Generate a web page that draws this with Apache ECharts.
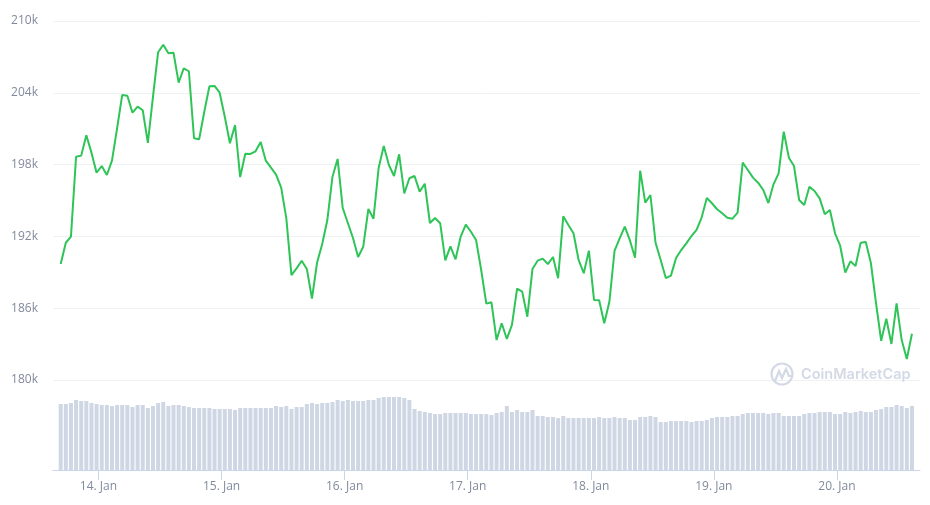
<!DOCTYPE html>
<html>
<head>
<meta charset="utf-8">
<title>Price chart</title>
<script src="https://cdn.jsdelivr.net/npm/echarts@6/dist/echarts.min.js"></script>
<style>
html, body { margin: 0; padding: 0; background: #fff; }
#main { width: 930px; height: 505px; }
</style>
</head>
<body>
<div id="main"></div>
<script>
// hourly price, in thousands
var prices = [
    189.69, 191.47, 191.98, 198.66, 198.75, 200.45, 199.0, 197.32, 197.88, 197.13,
    198.33, 201.03, 203.82, 203.76, 202.34, 202.84, 202.54, 199.81, 203.68, 207.39,
    208.02, 207.3, 207.35, 204.85, 206.05, 205.8, 200.2, 200.12, 202.42, 204.54,
    204.57, 204.01, 202.0, 199.78, 201.31, 196.96, 198.91, 198.89, 199.11, 199.89,
    198.33, 197.74, 197.16, 196.07, 193.51, 188.77, 189.33, 189.97, 189.28, 186.81,
    189.82, 191.37, 193.37, 196.99, 198.47, 194.37, 193.12, 191.87, 190.28, 191.14,
    194.29, 193.48, 197.72, 199.56, 197.97, 197.05, 198.86, 195.6, 196.86, 197.05,
    195.74, 196.4, 193.12, 193.54, 193.1, 190.0, 191.17, 190.09, 191.98, 192.98,
    192.39, 191.7, 189.19, 186.38, 186.49, 183.34, 184.74, 183.43, 184.6, 187.63,
    187.38, 185.29, 189.28, 189.97, 190.14, 189.69, 190.28, 188.5, 193.68, 192.95,
    192.26, 190.03, 188.92, 190.81, 186.69, 186.66, 184.74, 186.54, 190.78, 191.84,
    192.81, 191.66, 190.22, 197.49, 194.82, 195.46, 191.47, 190.03, 188.52, 188.72,
    190.2, 190.86, 191.42, 192.03, 192.54, 193.6, 195.21, 194.77, 194.27, 193.93,
    193.56, 193.48, 193.98, 198.16, 197.55, 196.91, 196.49, 195.88, 194.79, 196.35,
    197.27, 200.75, 198.58, 197.88, 195.04, 194.62, 196.15, 195.79, 195.18, 193.85,
    194.21, 192.26, 191.22, 188.97, 189.92, 189.53, 191.47, 191.53, 189.75, 186.41,
    183.28, 185.12, 183.01, 186.41, 183.34, 181.75, 183.87
];
// hourly volume, relative units
var volumes = [
    66, 66, 67, 70, 69, 69, 67, 66, 65, 65,
    64, 65, 65, 65, 63, 65, 65, 62, 64, 67,
    68, 64, 65, 65, 64, 63, 62, 62, 62, 62,
    61, 61, 61, 61, 60, 62, 62, 62, 62, 62,
    62, 62, 64, 63, 64, 61, 63, 63, 66, 67,
    66, 67, 67, 68, 70, 69, 70, 69, 69, 69,
    70, 70, 72, 73, 73, 73, 73, 72, 70, 61,
    59, 58, 57, 56, 56, 57, 57, 57, 57, 57,
    56, 56, 56, 56, 55, 57, 58, 64, 58, 60,
    58, 58, 60, 54, 54, 53, 53, 52, 54, 52,
    52, 52, 52, 52, 52, 53, 52, 52, 53, 52,
    52, 50, 50, 53, 53, 54, 53, 48, 48, 49,
    49, 49, 49, 48, 49, 49, 50, 52, 53, 53,
    53, 54, 54, 56, 57, 57, 57, 57, 56, 57,
    57, 54, 54, 54, 54, 56, 57, 57, 58, 58,
    58, 56, 56, 58, 57, 58, 59, 58, 58, 60,
    61, 63, 63, 65, 64, 62, 64
];
var dayLabels = ['14. Jan', '15. Jan', '16. Jan', '17. Jan', '18. Jan', '19. Jan', '20. Jan'];
var dayTicks = [0, 24, 48, 72, 96, 120, 144]; // hours after 14 Jan 00:00

var firstPoint = -7.37; // the series starts on the evening of 13 Jan
var axisMin = -8.87;
var axisMax = 160.2;

var priceData = prices.map(function (val, idx) {
    return [firstPoint + idx, val];
});
var volumeData = volumes.map(function (val, idx) {
    return [firstPoint + idx, val];
});

var FONT = '"Open Sans", sans-serif';
var myChart = echarts.init(document.getElementById('main'));
var option = {
    animation: false,
    backgroundColor: '#fff',
    grid: [
        { left: 53, top: 21, width: 867, height: 359 },
        { left: 53, top: 380, width: 867, height: 90 }
    ],
    xAxis: [
        {
            type: 'value',
            gridIndex: 0,
            min: axisMin,
            max: axisMax,
            axisLine: { show: false },
            axisTick: { show: false },
            axisLabel: { show: false },
            splitLine: { show: false }
        },
        {
            type: 'value',
            gridIndex: 1,
            min: axisMin,
            max: axisMax,
            axisLine: { onZero: false, lineStyle: { color: '#ccd6eb', width: 1 } },
            axisTick: { length: 10, lineStyle: { color: '#ccd6eb' }, customValues: dayTicks },
            axisLabel: {
                customValues: dayTicks,
                margin: 11,
                color: '#808a9d',
                fontFamily: FONT,
                fontSize: 12,
                hideOverlap: false,
                formatter: function (value) {
                    return dayLabels[dayTicks.indexOf(value)] || '';
                }
            },
            splitLine: { show: false }
        }
    ],
    yAxis: [
        {
            type: 'value',
            gridIndex: 0,
            min: 180,
            max: 210,
            interval: 6,
            axisLine: { show: false },
            axisTick: { show: false },
            axisLabel: {
                margin: 15,
                color: '#808a9d',
                fontFamily: FONT,
                fontSize: 12,
                padding: [0, 0, 4, 0],
                formatter: '{value}k'
            },
            splitLine: { lineStyle: { color: '#eff2f5', width: 1 } }
        },
        {
            type: 'value',
            gridIndex: 1,
            min: 0,
            max: 90,
            show: false,
            splitLine: { show: false }
        }
    ],
    series: [
        {
            type: 'bar',
            xAxisIndex: 1,
            yAxisIndex: 1,
            barWidth: 4,
            itemStyle: { color: '#cfd6e4' },
            data: volumeData
        },
        {
            type: 'line',
            xAxisIndex: 0,
            yAxisIndex: 0,
            showSymbol: false,
            smooth: false,
            lineStyle: { color: '#2fc458', width: 2 },
            data: priceData
        }
    ],
    graphic: [
        {
            type: 'circle',
            shape: { cx: 782, cy: 374, r: 10.5 },
            style: { fill: 'none', stroke: '#d3d9e5', lineWidth: 2.2 },
            z: 1
        },
        {
            type: 'polyline',
            shape: { points: [[775, 381], [779, 371], [782, 378], [786, 369], [789, 376], [793, 376]] },
            style: { fill: 'none', stroke: '#d3d9e5', lineWidth: 2.2 },
            z: 1
        },
        {
            type: 'text',
            x: 801,
            y: 375,
            style: {
                text: 'CoinMarketCap',
                fill: '#d3d9e5',
                fontFamily: 'Inter, sans-serif',
                fontSize: 14.5,
                fontWeight: 600,
                verticalAlign: 'middle'
            },
            z: 1
        }
    ]
};
myChart.setOption(option);
</script>
</body>
</html>
